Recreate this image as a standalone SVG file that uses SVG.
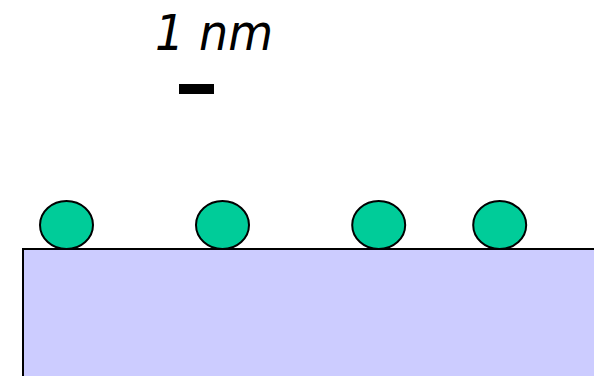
<svg xmlns="http://www.w3.org/2000/svg" width="594" height="376" viewBox="0 0 594 376">
<style>
.atom{fill:#00CC99;stroke:#000;stroke-width:2}
.lbl{font-family:"DejaVu Sans",Verdana,sans-serif;font-style:italic;font-size:49px;fill:#000}
</style>
<rect width="594" height="376" fill="#fff"/>
<g id="substrate"><rect x="23" y="249" width="580" height="140" fill="#CCCCFF" stroke="#000" stroke-width="2"/></g>
<g id="atom1"><ellipse class="atom" cx="66.5" cy="225" rx="26.5" ry="24"/></g>
<g id="atom2"><ellipse class="atom" cx="222.5" cy="225" rx="26.5" ry="24"/></g>
<g id="atom3"><ellipse class="atom" cx="378.7" cy="225" rx="26.5" ry="24"/></g>
<g id="atom4"><ellipse class="atom" cx="499.7" cy="225" rx="26.5" ry="24"/></g>
<g id="scale">
<text class="lbl" x="155" y="50" textLength="118" lengthAdjust="spacingAndGlyphs">1 nm</text>
<rect x="179" y="84" width="35" height="10" fill="#000"/>
</g>
</svg>
